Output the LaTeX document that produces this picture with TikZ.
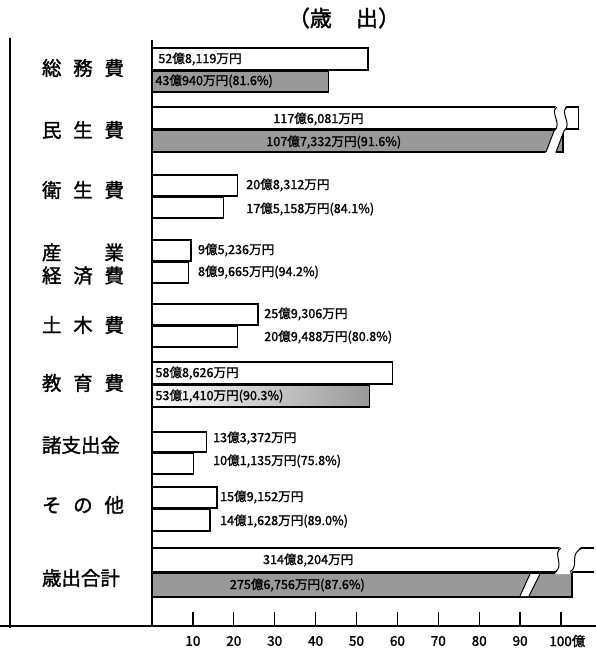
\documentclass[tikz,border=0pt]{standalone}
\usepackage{fontspec}
\usepackage{tikz}
\newfontfamily\jpfont{Noto Sans CJK JP}
\newfontfamily\jpbold[FakeBold=1.5]{Noto Sans CJK JP}

\begin{document}
\begin{tikzpicture}[x=1pt,y=-1pt,
  yosan/.style={draw,line width=1.3pt,fill=white},
  kessan/.style={draw,line width=1.3pt,fill=white},
  kessangray/.style={draw,line width=1.3pt,fill=black!40},
  komoku/.style={font=\jpbold\fontsize{19.5}{23}\selectfont,inner sep=0pt,align=center},
  kingaku/.style={font=\jpbold\fontsize{12.6}{14}\selectfont,anchor=west,inner sep=0pt},
  memori/.style={font=\jpbold\fontsize{13.5}{15}\selectfont,inner sep=0pt}]
\useasboundingbox (0,0) rectangle (596,649);

% title
\node[font=\jpbold\fontsize{22}{24}\selectfont,inner sep=0pt] (title) at (344,18) {（歳\hspace{1.1em}出）};

% frame and axes
\draw[line width=1.5pt] (10,38) -- (10,628);
\draw[line width=1.5pt] (152,40) -- (152,626);
\draw[line width=1.5pt] (0,626) -- (596,626);

% item names
\node[komoku] (soumu)  at (83,68)  {\makebox[82pt][s]{総 務 費}};
\node[komoku] (minsei) at (83,130) {\makebox[82pt][s]{民 生 費}};
\node[komoku] (eisei)  at (83,190) {\makebox[82pt][s]{衛 生 費}};
\node[komoku] (sangyo) at (83,264) {\makebox[82pt][s]{産 業}\\\makebox[82pt][s]{経 済 費}};
\node[komoku] (doboku) at (83,325) {\makebox[82pt][s]{土 木 費}};
\node[komoku] (kyoiku) at (83,383) {\makebox[82pt][s]{教 育 費}};
\node[komoku] (shoshi) at (83,445) {\makebox[82pt][s]{諸支出金}};
\node[komoku] (sonota) at (83,505) {\makebox[82pt][s]{そ の 他}};
\node[komoku] (goukei) at (83,578) {\makebox[82pt][s]{歳出合計}};

\begin{scope}[shift={(152,0)},x=4.09pt]
% budget / settlement bars
\draw[yosan] (0,48) rectangle (52.81,70);
\draw[kessangray] (0,71) rectangle (43.09,92);
\draw[yosan] (0,107) rectangle (104.2,129);
\draw[kessangray] (0,130) rectangle (100.5,152);
\draw[yosan] (0,175) rectangle (20.83,196);
\draw[kessan] (0,197) rectangle (17.52,218);
\draw[yosan] (0,240) rectangle (9.52,261);
\draw[kessan] (0,262) rectangle (8.97,283);
\draw[yosan] (0,304) rectangle (25.93,325);
\draw[kessan] (0,326) rectangle (20.95,347);
\draw[yosan] (0,362) rectangle (58.86,384);
\draw[kessan,left color=white,right color=black!40] (0,385) rectangle (53.14,407);
\draw[yosan] (0,432) rectangle (13.34,452);
\draw[kessan] (0,453) rectangle (10.11,474);
\draw[yosan] (0,487) rectangle (15.92,508);
\draw[kessan] (0,509) rectangle (14.16,531);
\draw[kessangray] (0,573) rectangle (102.7,597);
\draw[line width=1.3pt] (0,548) -- (108,548);
\draw[line width=1.3pt] (0,572) -- (108,572);

% amounts
\node[kingaku] (soumu1)  at (1.5,59)   {52億8,119万円};
\node[kingaku] (soumu2)  at (0.8,81)   {43億940万円(81.6\%)};
\node[kingaku] (minsei1) at (29.6,119) {117億6,081万円};
\node[kingaku] (minsei2) at (27.9,142) {107億7,332万円(91.6\%)};
\node[kingaku] (eisei1)  at (23,185)   {20億8,312万円};
\node[kingaku] (eisei2)  at (23,209)   {17億5,158万円(84.1\%)};
\node[kingaku] (sangyo1) at (11.2,250) {9億5,236万円};
\node[kingaku] (sangyo2) at (11.2,272) {8億9,665万円(94.2\%)};
\node[kingaku] (doboku1) at (27.4,314) {25億9,306万円};
\node[kingaku] (doboku2) at (27.4,337) {20億9,488万円(80.8\%)};
\node[kingaku] (kyoiku1) at (0.8,373)  {58億8,626万円};
\node[kingaku] (kyoiku2) at (0.8,396)  {53億1,410万円(90.3\%)};
\node[kingaku] (shoshi1) at (14.9,438) {13億3,372万円};
\node[kingaku] (shoshi2) at (14.9,461) {10億1,135万円(75.8\%)};
\node[kingaku] (sonota1) at (16.6,497) {15億9,152万円};
\node[kingaku] (sonota2) at (16.6,521) {14億1,628万円(89.0\%)};
\node[kingaku] (goukei1) at (27.1,560) {314億8,204万円};
\node[kingaku] (goukei2) at (19,585)   {275億6,756万円(87.6\%)};

% scale
\foreach \k in {10,20,...,100}
  \draw[line width=1.3pt] (\k,612) -- (\k,626);
\foreach \k in {10,20,...,90}
  \node[memori] (m\k) at (\k,641) {\k};
\node[memori,anchor=west] (m100) at (97.1,641) {100億};
\end{scope}

% breaks
\fill[white] (557,105) .. controls (549,112) and (563,124) .. (554,131) -- (545,154)
  -- (555,154) -- (564,131) .. controls (573,124) and (559,112) .. (567,105) -- cycle;
\draw[line width=1pt] (557,107) .. controls (549,112) and (563,124) .. (554,131) -- (546,152);
\draw[line width=1pt] (567,107) .. controls (559,112) and (573,124) .. (564,131) -- (556,152);
\fill[white] (561,546) .. controls (552,553) and (565,566) .. (555,574)
  -- (570,574) .. controls (580,566) and (568,553) .. (583,546) -- cycle;
\draw[line width=1pt] (561,548) .. controls (552,553) and (565,566) .. (555,572);
\draw[line width=1pt] (583,548) .. controls (568,553) and (580,566) .. (570,572);
\fill[white] (530,574) -- (540,574) -- (529,596) -- (520,596) -- cycle;
\draw[line width=1pt] (530,574) -- (520,596);
\draw[line width=1pt] (540,574) -- (529,596);
\end{tikzpicture}
\end{document}
